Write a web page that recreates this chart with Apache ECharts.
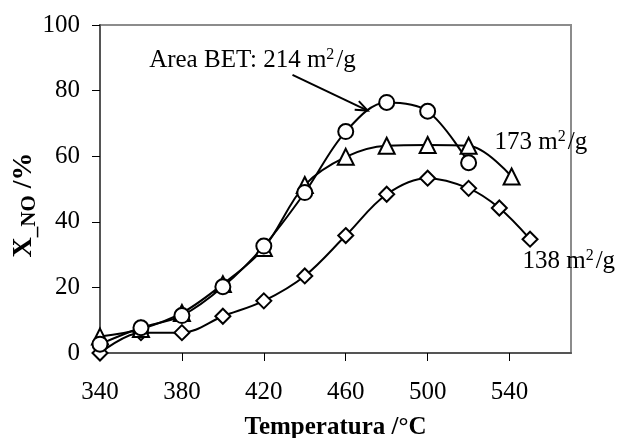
<!DOCTYPE html>
<html><head><meta charset="utf-8">
<script src="https://cdn.jsdelivr.net/npm/echarts@6/dist/echarts.min.js"></script>
<style>html,body{margin:0;padding:0;background:#fff}#c{width:620px;height:438px}</style>
</head><body><div id="c"></div>
<script>
// ---- data ----
const xTicks = [340, 380, 420, 460, 500, 540];
const yTicks = [0, 20, 40, 60, 80, 100];

const temps214 = [340, 360, 380, 400, 420, 440, 460, 480, 500, 520];
const bet214   = [2.7, 7.7, 11.4, 20.2, 32.6, 48.9, 67.5, 76.4, 73.7, 58.0];

const temps173 = [340, 360, 380, 400, 420, 440, 460, 480, 500, 520, 541];
const bet173   = [5.0, 7.3, 12.2, 21.0, 32.0, 51.2, 59.8, 63.2, 63.4, 63.2, 53.8];

const temps138 = [340, 360, 380, 400, 420, 440, 460, 480, 500, 520, 535, 550];
const bet138   = [0.0, 6.2, 6.2, 11.2, 15.9, 23.5, 35.8, 48.4, 53.3, 50.2, 44.2, 34.7];

// annotation texts: [before superscript, superscript, after]
const labelParts = [['Area BET: 214 m', '2', '/g'], ['173 m', '2', '/g'], ['138 m', '2', '/g']];
const labelAnchors = [[364, 89.3], [532.7, 64.3], [546.3, 28]];
const arrowFrom = [434, 84.8];
const arrowTo = [470.7, 73.9];

const xTitle = 'Temperatura /\u00B0C';

// ---- chart ----
const FONT = '"Liberation Serif", "Times New Roman", serif';
const chart = echarts.init(document.getElementById('c'), null, {renderer: 'canvas'});
const pair = (xs, ys) => xs.map((x, i) => [x, ys[i]]);

function mkSeries(name, data, symbol, size) {
  return {
    name, type: 'line', data, smooth: 0.35,
    symbol, symbolSize: size, showSymbol: true,
    lineStyle: {color: '#000', width: 2},
    itemStyle: {color: '#fff', borderColor: '#000', borderWidth: 2},
    emphasis: {disabled: true},
    z: 3
  };
}

chart.setOption({
  animation: false,
  backgroundColor: '#fff',
  grid: {left: 100, right: 49, top: 25, bottom: 85, show: true, containLabel: false,
         outerBoundsMode: 'none',
         borderColor: '#8c8c8c', borderWidth: 2, backgroundColor: 'transparent'},
  xAxis: {
    type: 'value', min: 340, max: 570, interval: 40,
    axisLine: {show: true, onZero: false, lineStyle: {color: '#555', width: 2}},
    axisTick: {show: true, inside: false, length: 8, lineStyle: {color: '#000', width: 1}, customValues: xTicks},
    axisLabel: {customValues: xTicks, margin: 27, color: '#000', fontFamily: FONT, fontSize: 25},
    splitLine: {show: false},
    name: xTitle, nameLocation: 'middle', nameGap: 62,
    nameTextStyle: {color: '#000', fontFamily: FONT, fontSize: 25, fontWeight: 'bold'}
  },
  yAxis: {
    type: 'value', min: 0, max: 100, interval: 20,
    axisLine: {show: true, onZero: false, lineStyle: {color: '#555', width: 2}},
    axisTick: {show: true, inside: false, length: 8, lineStyle: {color: '#000', width: 1}, customValues: yTicks},
    axisLabel: {customValues: yTicks, margin: 20, color: '#000', fontFamily: FONT, fontSize: 25},
    splitLine: {show: false}
  },
  series: [
    mkSeries('138', pair(temps138, bet138), 'diamond', 15),
    mkSeries('173', pair(temps173, bet173), 'triangle', 16),
    mkSeries('214', pair(temps214, bet214), 'circle', 15)
  ]
});

// ---- annotations ----
const px = p => chart.convertToPixel({gridIndex: 0}, p);
const graphics = [];
const annRich = {
  n: {fontFamily: FONT, fontSize: 25, lineHeight: 26, fill: '#000'},
  sup: {fontFamily: FONT, fontSize: 16, lineHeight: 16, verticalAlign: 'top', fill: '#000', padding: [0, 2, 0, 0]}
};
labelParts.forEach((parts, i) => {
  const p = px(labelAnchors[i]);
  graphics.push({type: 'text', x: p[0], y: p[1], z: 10,
    style: {text: '{n|' + parts[0] + '}{sup|' + parts[1] + '}{n|' + parts[2] + '}',
            rich: annRich, fill: '#000', align: 'left', verticalAlign: 'middle'}});
});
const a = px(arrowFrom), b = px(arrowTo);
const ang = Math.atan2(b[1] - a[1], b[0] - a[0]);
const hl = 13, spread = 0.38;
graphics.push({type: 'line', z: 10, shape: {x1: a[0], y1: a[1], x2: b[0], y2: b[1]},
  style: {stroke: '#000', lineWidth: 2}});
graphics.push({type: 'polyline', z: 10, shape: {points: [
  [b[0] - hl * Math.cos(ang - spread), b[1] - hl * Math.sin(ang - spread)],
  [b[0], b[1]],
  [b[0] - hl * Math.cos(ang + spread), b[1] - hl * Math.sin(ang + spread)]]},
  style: {stroke: '#000', lineWidth: 2, fill: null}});
// y-axis title
graphics.push({type: 'text', x: 24, y: 205, rotation: Math.PI / 2, z: 10,
  style: {
    text: '{x|X}{s|_NO}{t| /%}', fill: '#000', align: 'center', verticalAlign: 'middle',
    rich: {
      x: {fontFamily: FONT, fontSize: 28, fontWeight: 'bold', lineHeight: 33},
      s: {fontFamily: FONT, fontSize: 21, fontWeight: 'bold', lineHeight: 21, verticalAlign: 'bottom'},
      t: {fontFamily: FONT, fontSize: 28, fontWeight: 'bold', lineHeight: 33}
    }
  }});
chart.setOption({graphic: graphics});
</script>
</body></html>
